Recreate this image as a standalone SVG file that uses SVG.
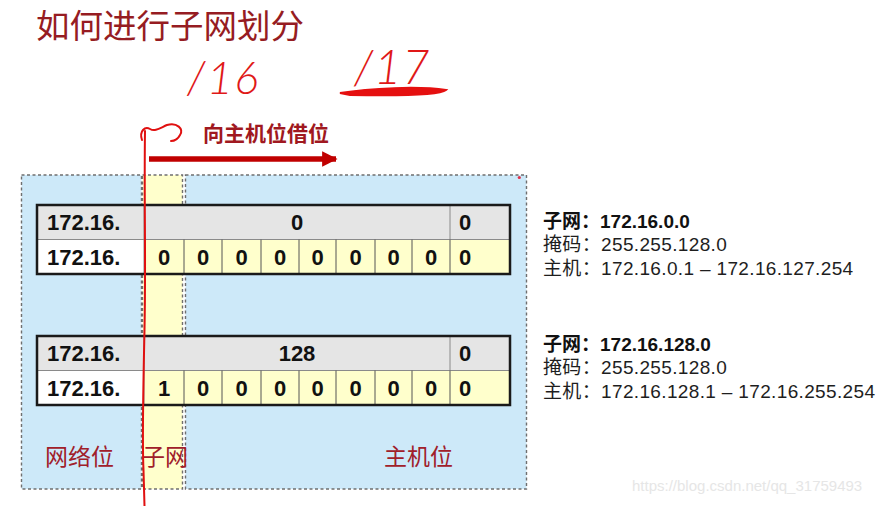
<svg xmlns="http://www.w3.org/2000/svg" width="884" height="506" viewBox="0 0 884 506">
<defs>
<style>
.zone{stroke:#6f6f6f;stroke-width:1.4;stroke-dasharray:3 2.5}
.blue{fill:#cde9f9}
.yel{fill:#ffffcc}
.gray{fill:#e5e5e5}
.white{fill:#ffffff}
.sep{stroke:#555;stroke-width:1}
.sepg{stroke:#8a8a8a;stroke-width:1}
.frame{fill:none;stroke:#1a1a1a;stroke-width:2.5}
.cell{font-family:"Liberation Sans",Arial,sans-serif;font-weight:bold;font-size:22px;fill:#111}
.mid{text-anchor:middle}
.lbl{font-family:"Noto Sans CJK SC",sans-serif;font-size:23px;fill:#a0202a}
.info{font-family:"Liberation Sans","Noto Sans CJK SC",sans-serif;font-size:19px;fill:#1e1e1e;letter-spacing:0.35px}
.infob{font-family:"Liberation Sans","Noto Sans CJK SC",sans-serif;font-size:19px;font-weight:bold;fill:#111}
.hand{fill:none;stroke:#e01010;stroke-width:2;stroke-linecap:round;stroke-linejoin:round}
.handtxt{font-family:Lato,"DejaVu Sans",sans-serif;font-weight:300;font-style:italic;fill:#e01818}
</style>
<marker id="ah" viewBox="0 0 10 10" refX="9" refY="5" markerWidth="3.2" markerHeight="2.8" orient="auto" markerUnits="strokeWidth">
<path d="M0,0 L10,5 L0,10 z" fill="#c00000"/>
</marker>
</defs>
<rect width="884" height="506" fill="#ffffff"/>

<!-- title -->
<text x="36" y="38" font-family="Noto Sans CJK SC,sans-serif" font-size="33.5" fill="#961c22">如何进行子网划分</text>

<!-- handwritten notes -->
<g id="note16">
<text class="handtxt" x="187" y="94" font-size="45" letter-spacing="1.5">/16</text>
</g>
<g id="note17">
<text class="handtxt" x="354" y="84" font-size="47" letter-spacing="1">/17</text>
<path d="M340,93 C370,88 420,86 446,90 C440,95 400,96 350,95 Z" fill="#e51010" stroke="#e51010" stroke-width="2"/>
</g>

<!-- zones -->
<g id="zone-network">
<rect class="zone blue" x="21.5" y="175" width="120" height="314"/>
</g>
<g id="zone-subnet">
<rect class="zone yel" x="142.5" y="175" width="40" height="314"/>
</g>
<g id="zone-host">
<rect class="zone blue" x="185.5" y="175" width="341" height="314"/>
</g>
<circle cx="519.3" cy="177.5" r="1.6" fill="#e0304a"/>

<!-- table 1 -->
<g id="table1">
<rect class="gray" x="37" y="205" width="473" height="34.5"/>
<rect class="white" x="37" y="239.5" width="107" height="34.5"/>
<rect class="yel" x="144" y="239.5" width="366" height="34.5"/>
<line class="sepg" x1="37" y1="239.5" x2="510" y2="239.5"/>
<line class="sepg" x1="144" y1="205" x2="144" y2="274"/>
<line class="sepg" x1="450" y1="205" x2="450" y2="239.5"/>
<line class="sep" x1="184" y1="239.5" x2="184" y2="274"/>
<line class="sep" x1="222" y1="239.5" x2="222" y2="274"/>
<line class="sep" x1="261" y1="239.5" x2="261" y2="274"/>
<line class="sep" x1="299" y1="239.5" x2="299" y2="274"/>
<line class="sep" x1="336" y1="239.5" x2="336" y2="274"/>
<line class="sep" x1="375" y1="239.5" x2="375" y2="274"/>
<line class="sep" x1="412" y1="239.5" x2="412" y2="274"/>
<line class="sep" x1="450" y1="239.5" x2="450" y2="274"/>
<rect class="frame" x="37" y="205" width="473" height="69"/>
<text class="cell" x="47" y="230">172.16.</text>
<text class="cell mid" x="297" y="230">0</text>
<text class="cell" x="459" y="230">0</text>
<text class="cell" x="47" y="264.5">172.16.</text>
<text class="cell mid" x="164" y="264.5">0</text>
<text class="cell mid" x="203" y="264.5">0</text>
<text class="cell mid" x="241.5" y="264.5">0</text>
<text class="cell mid" x="280" y="264.5">0</text>
<text class="cell mid" x="317.5" y="264.5">0</text>
<text class="cell mid" x="355.5" y="264.5">0</text>
<text class="cell mid" x="393.5" y="264.5">0</text>
<text class="cell mid" x="431" y="264.5">0</text>
<text class="cell" x="459" y="264.5">0</text>
</g>

<!-- table 2 -->
<g id="table2">
<rect class="gray" x="37" y="336" width="473" height="34.5"/>
<rect class="white" x="37" y="370.5" width="107" height="34.5"/>
<rect class="yel" x="144" y="370.5" width="366" height="34.5"/>
<line class="sepg" x1="37" y1="370.5" x2="510" y2="370.5"/>
<line class="sepg" x1="144" y1="336" x2="144" y2="405"/>
<line class="sepg" x1="450" y1="336" x2="450" y2="370.5"/>
<line class="sep" x1="184" y1="370.5" x2="184" y2="405"/>
<line class="sep" x1="222" y1="370.5" x2="222" y2="405"/>
<line class="sep" x1="261" y1="370.5" x2="261" y2="405"/>
<line class="sep" x1="299" y1="370.5" x2="299" y2="405"/>
<line class="sep" x1="336" y1="370.5" x2="336" y2="405"/>
<line class="sep" x1="375" y1="370.5" x2="375" y2="405"/>
<line class="sep" x1="412" y1="370.5" x2="412" y2="405"/>
<line class="sep" x1="450" y1="370.5" x2="450" y2="405"/>
<rect class="frame" x="37" y="336" width="473" height="69"/>
<text class="cell" x="47" y="361">172.16.</text>
<text class="cell mid" x="297" y="361">128</text>
<text class="cell" x="459" y="361">0</text>
<text class="cell" x="47" y="395.5">172.16.</text>
<text class="cell mid" x="164" y="395.5">1</text>
<text class="cell mid" x="203" y="395.5">0</text>
<text class="cell mid" x="241.5" y="395.5">0</text>
<text class="cell mid" x="280" y="395.5">0</text>
<text class="cell mid" x="317.5" y="395.5">0</text>
<text class="cell mid" x="355.5" y="395.5">0</text>
<text class="cell mid" x="393.5" y="395.5">0</text>
<text class="cell mid" x="431" y="395.5">0</text>
<text class="cell" x="459" y="395.5">0</text>
</g>

<!-- zone labels -->
<text class="lbl" x="45" y="465">网络位</text>
<text class="lbl" x="142" y="465">子网</text>
<text class="lbl" x="384" y="465">主机位</text>

<!-- borrow arrow -->
<g id="borrow">
<text x="203" y="141" font-family="Noto Sans CJK SC,sans-serif" font-weight="bold" font-size="21" fill="#a01820">向主机位借位</text>
</g>
<g id="connectors">
<line x1="149" y1="159" x2="336" y2="159" stroke="#c00000" stroke-width="5.5" marker-end="url(#ah)"/>
<path class="hand" d="M145,131 C144,200 146,260 144.5,330 C143,400 142,440 143.5,470 L144.5,506"/>
<path class="hand" d="M142,140 C139,131 145,126 150,129 C155,132 160,128 167,125 C177,122 184,129 180,135 C178,139 174,141 171,141" stroke-width="1.6"/>
</g>

<!-- info -->
<g id="info1">
<text class="infob" x="543" y="228">子网：172.16.0.0</text>
<text class="info" x="543" y="251">掩码：255.255.128.0</text>
<text class="info" x="543" y="275">主机：172.16.0.1 – 172.16.127.254</text>
</g>
<g id="info2">
<text class="infob" x="543" y="351">子网：172.16.128.0</text>
<text class="info" x="543" y="374">掩码：255.255.128.0</text>
<text class="info" x="543" y="398">主机：172.16.128.1 – 172.16.255.254</text>
</g>

<text x="632" y="491" font-family="Liberation Sans,Arial,sans-serif" font-size="15" fill="#e6e6e6">https://blog.csdn.net/qq_31759493</text>
</svg>
